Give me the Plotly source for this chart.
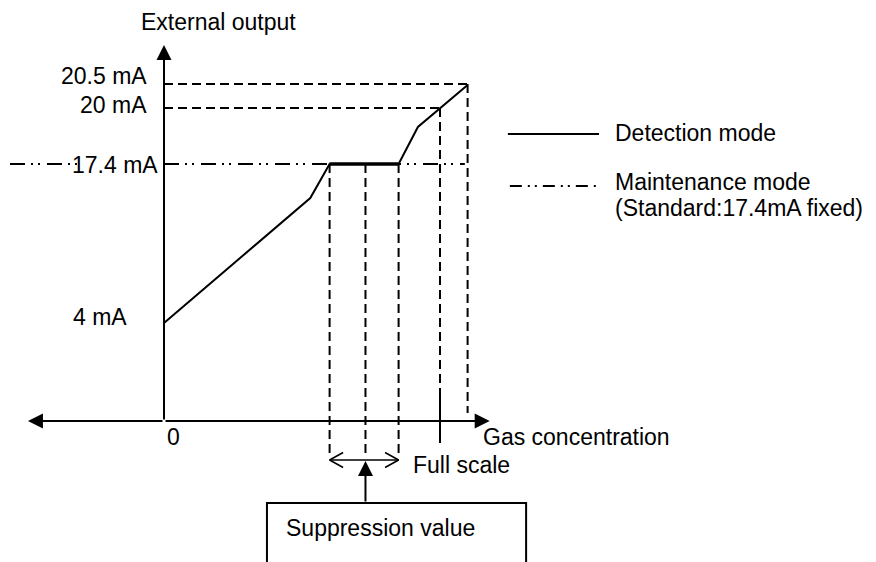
import plotly.graph_objects as go

# ---------------- data (diagram units) ----------------
# x: gas concentration in % of full scale; y: drawn output level (diagram position)
level_labels = ["4 mA", "17.4 mA", "20 mA", "20.5 mA"]
level_pos = [98, 257, 313, 337]

detection_x = [0, 53, 60, 85, 92, 100, 110]
detection_y = [98, 223, 257, 257, 294, 313, 336]

suppression_x = [60, 73, 85]      # lower limit, suppression value, upper limit
full_scale_x = 100
over_range_x = 110

x_axis_ends = [-49.3, 118]
y_axis_top = 376
maint_x_ends = [-55.8, 109]

FONT = "Arial, Liberation Sans, sans-serif"
FS = 23
BLACK = "#000000"
DASH = "9px,5px"
DASHDOT = "15px,6px,2px,5px,2px,7px"

fig = go.Figure()

def line(xs, ys, width=2, dash="solid"):
    fig.add_trace(go.Scatter(x=xs, y=ys, mode="lines",
                             line=dict(color=BLACK, width=width, dash=dash),
                             hoverinfo="skip", showlegend=False))

y4, y174, y20, y205 = level_pos

# maintenance mode dash-dot line (broken behind the 17.4 mA label)
line([maint_x_ends[0], -30, None, 0, maint_x_ends[1]],
     [y174, y174, None, y174, y174], width=2, dash=DASHDOT)

# dashed guide lines
line([0, over_range_x], [y205, y205], dash=DASH)
line([0, full_scale_x], [y20, y20], dash=DASH)
for sx in suppression_x:
    line([sx, sx], [y174, -37], dash=DASH)
line([full_scale_x, full_scale_x], [y20, 28], dash=DASH)
line([over_range_x, over_range_x], [y205, 8], dash=DASH)
# full scale tick
line([full_scale_x, full_scale_x], [28, -22], width=2)

# detection curve
line(detection_x, detection_y, width=2)
# overlapping flat part appears bold
line(detection_x[2:4], detection_y[2:4], width=3.5)

# double-headed range arrow (open chevrons)
ya = -39
line([suppression_x[0], suppression_x[2]], [ya, ya], width=1.5)
line([suppression_x[0] + 4.9, suppression_x[0], suppression_x[0] + 4.9],
     [ya + 7.5, ya, ya - 7.5], width=1.5)
line([suppression_x[2] - 4.9, suppression_x[2], suppression_x[2] - 4.9],
     [ya + 7.5, ya, ya - 7.5], width=1.5)

# legend samples
line([124.6, 157.6], [287, 287], width=2)
line([125.3, 157.6], [235, 235], width=2, dash="12px,6px,2px,5px,2px,6px")

annotations = []

def arrow(x, y, ax, ay, size=1.5, width=2):
    annotations.append(dict(x=x, y=y, ax=ax, ay=ay, xref="x", yref="y",
                            axref="x", ayref="y", text="", showarrow=True,
                            arrowhead=2, arrowsize=size, arrowwidth=width,
                            arrowcolor=BLACK, standoff=0, startstandoff=0))

# axes
arrow(x_axis_ends[1], 0, 0, 0)
arrow(x_axis_ends[0], 0, 0, 0)
arrow(0, y_axis_top, 0, 0)
# suppression value pointer
arrow(suppression_x[1], -40, suppression_x[1], -82)

def text(x, y, s, xanchor="left", yanchor="middle"):
    annotations.append(dict(x=x, y=y, xref="x", yref="y", text=s,
                            showarrow=False, xanchor=xanchor, yanchor=yanchor,
                            font=dict(family=FONT, size=FS, color=BLACK)))

text(19.9, 399, "External output", xanchor="center")
text(-12.6, y4 + 6, level_labels[0], xanchor="right")
text(-1.6, y174 - 1, level_labels[1], xanchor="right")
text(-5.5, y20 + 3, level_labels[2], xanchor="right")
text(-5.5, y205 + 8, level_labels[3], xanchor="right")
text(3.3, -16, "0", xanchor="center")
text(114.8, -16, "Gas concentration")
text(89.4, -44, "Full scale")
text(43.5, -107, "Suppression value")
text(162.7, 288, "Detection mode")
text(162.7, 239, "Maintenance mode")
text(162.7, 213, "(Standard:17.4mA fixed)")

# page body has an 8px margin: the figure covers page pixels 8..876 / 8..562
fig.update_layout(
    width=868, height=554, autosize=False,
    margin=dict(l=0, r=0, t=0, b=0),
    paper_bgcolor="white", plot_bgcolor="white",
    xaxis=dict(range=[-56.52, 257.97], visible=False, fixedrange=True),
    yaxis=dict(range=[-141, 413], visible=False, fixedrange=True),
    annotations=annotations,
    shapes=[dict(type="rect", xref="x", yref="y", x0=37.3, x1=131.2,
                 y0=-160, y1=-82, line=dict(color=BLACK, width=2),
                 fillcolor="rgba(0,0,0,0)")],
    showlegend=False,
)

fig.write_html("out.html")
